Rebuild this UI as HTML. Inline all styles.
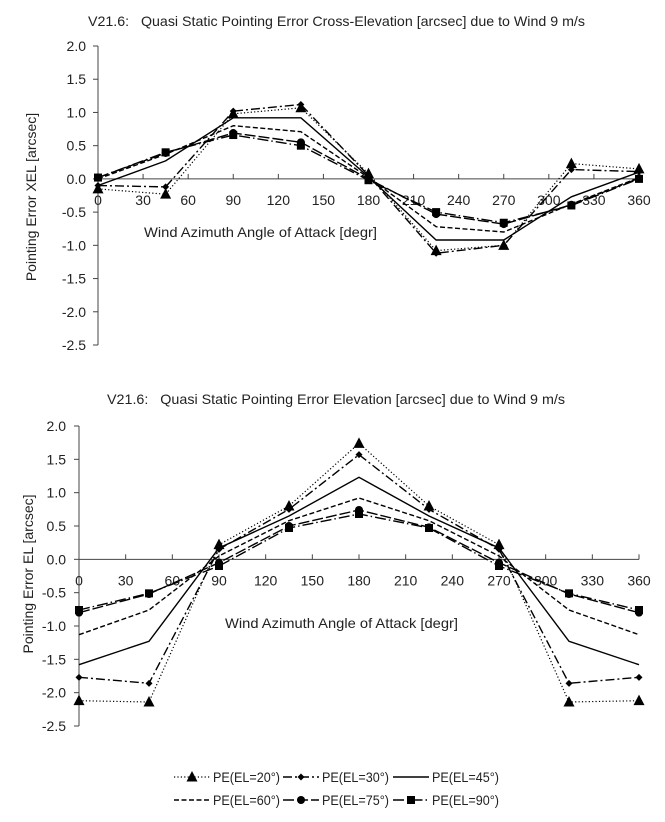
<!DOCTYPE html>
<html><head><meta charset="utf-8"><style>
html,body{margin:0;padding:0;background:#fff}
svg{display:block;font-family:"Liberation Sans",sans-serif}
</style></head><body>
<svg id="c" width="665" height="822" viewBox="0 0 665 822"></svg>
<script>
const angles=[0,45,90,135,180,225,270,315,360];
const xTicks=[0,30,60,90,120,150,180,210,240,270,300,330,360];
const yTicks=[2.0,1.5,1.0,0.5,0.0,-0.5,-1.0,-1.5,-2.0,-2.5];
const seriesNames=["PE(EL=20°)","PE(EL=30°)","PE(EL=45°)","PE(EL=60°)","PE(EL=75°)","PE(EL=90°)"];
const xel20=[-0.15,-0.23,0.98,1.07,0.08,-1.08,-1.0,0.23,0.15];
const xel30=[-0.1,-0.12,1.02,1.12,0.05,-1.12,-1.0,0.14,0.11];
const xel45=[-0.1,0.27,0.92,0.92,0.03,-0.92,-0.92,-0.27,0.1];
const xel60=[0.0,0.37,0.8,0.71,0.02,-0.72,-0.8,-0.38,0.02];
const xel75=[0.02,0.39,0.69,0.55,0.0,-0.53,-0.68,-0.39,0.01];
const xel90=[0.02,0.4,0.66,0.5,-0.02,-0.5,-0.66,-0.4,0.0];
const el20=[-2.12,-2.14,0.22,0.8,1.74,0.8,0.22,-2.14,-2.12];
const el30=[-1.77,-1.86,0.15,0.75,1.57,0.75,0.15,-1.86,-1.77];
const el45=[-1.58,-1.23,0.17,0.65,1.23,0.65,0.17,-1.23,-1.58];
const el60=[-1.13,-0.76,0.05,0.58,0.92,0.58,0.05,-0.76,-1.13];
const el75=[-0.8,-0.52,-0.05,0.5,0.74,0.48,-0.05,-0.52,-0.8];
const el90=[-0.76,-0.51,-0.1,0.47,0.68,0.47,-0.1,-0.51,-0.76];

const NS="http://www.w3.org/2000/svg";
const svg=document.getElementById('c');
const styles=[
 {dash:"1.2,2.2",w:1.2,m:"tri"},
 {dash:"9,3,2,3",w:1.4,m:"dia"},
 {dash:"",w:1.4,m:"none"},
 {dash:"5,2.5",w:1.4,m:"none"},
 {dash:"11,3",w:1.4,m:"circ"},
 {dash:"11,3,1.5,3",w:1.4,m:"sq"}
];
function el(tag,attrs,parent){const e=document.createElementNS(NS,tag);for(const k in attrs)e.setAttribute(k,attrs[k]);(parent||svg).appendChild(e);return e;}
function marker(g,type,x,y){
  let m=null;
  if(type==="tri")m=el('polygon',{points:`${x},${y-6} ${x-5.5},${y+4.5} ${x+5.5},${y+4.5}`,fill:'#000'},g);
  else if(type==="dia")m=el('polygon',{points:`${x},${y-3.5} ${x+3.5},${y} ${x},${y+3.5} ${x-3.5},${y}`,fill:'#000'},g);
  else if(type==="circ")m=el('circle',{cx:x,cy:y,r:4,fill:'#000'},g);
  else if(type==="sq")m=el('rect',{x:x-4,y:y-4,width:8,height:8,fill:'#000'},g);
  if(m){}
}
function chart(cfg){
  const g=el('g',{});
  
  
  const xs=v=>cfg.x0+(v/360)*(cfg.x1-cfg.x0);
  const ys=v=>cfg.y0+(2.0-v)/4.5*(cfg.y1-cfg.y0);
  const t=el('text',{x:cfg.titleX,y:cfg.titleY,'font-size':14,textLength:cfg.titleLen,lengthAdjust:'spacingAndGlyphs',fill:'#222'},g);
  t.textContent=cfg.title;
  
  const ya=el('line',{x1:cfg.x0,y1:ys(2),x2:cfg.x0,y2:ys(-2.5),stroke:'#444','stroke-width':1},g);
  
  yTicks.forEach(v=>{
    el('line',{x1:cfg.x0-5,y1:ys(v),x2:cfg.x0,y2:ys(v),stroke:'#444'},g);
    const tl=el('text',{x:cfg.ylabX,y:ys(v)+5,'font-size':14,'text-anchor':'end',fill:'#222'},g);
    tl.textContent=v.toFixed(1);
    
  });
  const xa=el('line',{x1:cfg.x0,y1:ys(0),x2:xs(360),y2:ys(0),stroke:'#444','stroke-width':1},g);
  
  xTicks.forEach(v=>{
    el('line',{x1:xs(v),y1:ys(0)-5,x2:xs(v),y2:ys(0),stroke:'#444'},g);
    const tl=el('text',{x:xs(v),y:ys(0)+26,'font-size':14,'text-anchor':'middle',fill:'#222'},g);
    tl.textContent=v;
    
  });
  const xt=el('text',{x:cfg.xtX,y:cfg.xtY,'font-size':14,textLength:233,lengthAdjust:'spacingAndGlyphs',fill:'#222'},g);
  xt.textContent='Wind Azimuth Angle of Attack [degr]';
  
  const yt=el('text',{x:0,y:0,'font-size':14,'text-anchor':'middle',transform:`translate(${cfg.ytX},${cfg.ytY}) rotate(-90)`,fill:'#222'},g);
  yt.textContent=cfg.ytitle;
  
  cfg.series.forEach((s,i)=>{
    const sg=el('g',{},g);
    
    
    const pts=s.map((v,j)=>xs(angles[j]).toFixed(1)+','+ys(v).toFixed(1)).join(' ');
    const attrs={points:pts,fill:'none',stroke:'#000','stroke-width':styles[i].w};
    if(styles[i].dash)attrs['stroke-dasharray']=styles[i].dash;
    const pl=el('polyline',attrs,sg);
    
    s.forEach((v,j)=>marker(sg,styles[i].m,xs(angles[j]),ys(v)));
  });
}
chart({name:'xel-chart',x0:98,x1:639,y0:46,y1:345,title:'V21.6:\u00a0\u00a0\u00a0Quasi Static Pointing Error Cross-Elevation [arcsec] due to Wind 9 m/s',titleX:88,titleY:26,titleLen:497,ylabX:86,xtX:144,xtY:237,ytX:36,ytY:197,ytitle:'Pointing Error XEL [arcsec]',series:[xel20,xel30,xel45,xel60,xel75,xel90]});
chart({name:'el-chart',x0:79,x1:639,y0:426,y1:726,title:'V21.6:\u00a0\u00a0\u00a0Quasi Static Pointing Error Elevation [arcsec] due to Wind 9 m/s',titleX:107,titleY:404,titleLen:458,ylabX:66,xtX:225,xtY:628,ytX:33,ytY:574,ytitle:'Pointing Error EL [arcsec]',series:[el20,el30,el45,el60,el75,el90]});
const lg=el('g',{});


const lx=[174,283,393,174,283,393];
const ly=[777,777,777,800,800,800];
seriesNames.forEach((n,i)=>{
  const eg=el('g',{},lg);
  
  
  const a={x1:lx[i],y1:ly[i],x2:lx[i]+36,y2:ly[i],stroke:'#000','stroke-width':styles[i].w};
  if(styles[i].dash)a['stroke-dasharray']=styles[i].dash;
  el('line',a,eg);
  marker(eg,styles[i].m,lx[i]+18,ly[i]);
  const t=el('text',{x:lx[i]+39,y:ly[i]+5,'font-size':14,textLength:67,lengthAdjust:'spacingAndGlyphs',fill:'#222'},eg);
  t.textContent=n;
});
</script>
</body></html>
